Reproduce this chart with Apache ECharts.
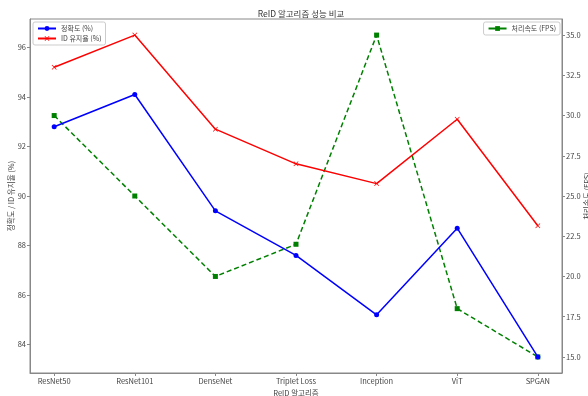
<!DOCTYPE html>
<html><head><meta charset="utf-8">
<script src="https://cdn.jsdelivr.net/npm/echarts@6/dist/echarts.min.js"></script>
<style>html,body{margin:0;padding:0;background:#fff}#c{width:588px;height:396px}</style>
</head><body><div id="c"></div>
<script>
const categories = ['ResNet50','ResNet101','DenseNet','Triplet Loss','Inception','ViT','SPGAN'];
const accuracy = [92.8, 94.1, 89.4, 87.6, 85.2, 88.7, 83.5];
const idRetention = [95.2, 96.5, 92.7, 91.3, 90.5, 93.1, 88.8];
const fps = [30, 25, 20, 22, 35, 18, 15];
const leftTicks = [84, 86, 88, 90, 92, 94, 96];
const rightTicks = [15, 17.5, 20, 22.5, 25, 27.5, 30, 32.5, 35];

const FONT = '"Noto Sans CJK KR", "DejaVu Sans", sans-serif';
const TXT = '#444';
const AX = '#888';
const xIdx = categories.map((_, i) => i);
const pts = arr => arr.map((v, i) => [i, v]);
const X_SYMBOL = 'path://M0,1L1,0L5,4L9,0L10,1L6,5L10,9L9,10L5,6L1,10L0,9L4,5Z';

const chart = echarts.init(document.getElementById('c'), null, {renderer: 'canvas'});
chart.setOption({
  animation: false,
  backgroundColor: '#fff',
  textStyle: {fontFamily: FONT},
  title: {
    text: 'ReID 알고리즘 성능 비교',
    left: 296, top: 5, textAlign: 'center',
    textStyle: {fontSize: 8.5, fontWeight: 'normal', color: '#333', fontFamily: FONT}
  },
  grid: {left: 30, right: 26, top: 19, bottom: 23, show: true, borderColor: AX, borderWidth: 1,
    backgroundColor: 'transparent', outerBoundsMode: 'none', containLabel: false},
  legend: [
    {
      data: ['정확도 (%)', 'ID 유지율 (%)'],
      orient: 'vertical', left: 33, top: 22,
      itemWidth: 18, itemHeight: 6, itemGap: 3,
      padding: [3, 4, 3, 4],
      borderColor: '#ccc', borderWidth: 1, borderRadius: 2,
      textStyle: {fontSize: 7, color: TXT, fontFamily: FONT}
    },
    {
      data: ['처리속도 (FPS)'],
      orient: 'vertical', right: 28, top: 22,
      itemWidth: 18, itemHeight: 6,
      padding: [3, 4, 3, 4],
      borderColor: '#ccc', borderWidth: 1, borderRadius: 2,
      lineStyle: {type: 'solid'},
      textStyle: {fontSize: 7, color: TXT, fontFamily: FONT}
    }
  ],
  xAxis: {
    type: 'value', min: -0.3, max: 6.3,
    name: 'ReID 알고리즘', nameLocation: 'middle', nameGap: 16,
    nameTextStyle: {fontSize: 7.5, color: TXT, fontFamily: FONT},
    axisLine: {show: true, onZero: false, lineStyle: {color: AX}},
    axisTick: {show: true, length: 3, lineStyle: {color: AX}, customValues: xIdx},
    axisLabel: {fontSize: 7.5, color: TXT, margin: 4, customValues: xIdx,
      formatter: v => categories[Math.round(v)] || ''},
    splitLine: {show: false}
  },
  yAxis: [
    {
      type: 'value', min: 82.85, max: 97.15, position: 'left',
      name: '정확도 / ID 유지율 (%)', nameLocation: 'middle', nameGap: 15, nameRotate: 90,
      nameMoveOverlap: false,
      nameTextStyle: {fontSize: 7.5, color: TXT, fontFamily: FONT},
      axisLine: {show: true, onZero: false, lineStyle: {color: AX}},
      axisTick: {show: true, length: 3, lineStyle: {color: AX}, customValues: leftTicks},
      axisLabel: {fontSize: 7.5, color: TXT, margin: 4, customValues: leftTicks},
      splitLine: {show: false}
    },
    {
      type: 'value', min: 14, max: 36, position: 'right',
      name: '처리속도 (FPS)', nameLocation: 'middle', nameGap: 21, nameRotate: 90,
      nameMoveOverlap: false,
      nameTextStyle: {fontSize: 7.5, color: TXT, fontFamily: FONT},
      axisLine: {show: true, onZero: false, lineStyle: {color: AX}},
      axisTick: {show: true, length: 3, lineStyle: {color: AX}, customValues: rightTicks},
      axisLabel: {fontSize: 7.5, color: TXT, margin: 4, customValues: rightTicks,
        formatter: v => Number(v).toFixed(1)},
      splitLine: {show: false}
    }
  ],
  series: [
    {
      name: '정확도 (%)', type: 'line', yAxisIndex: 0, data: pts(accuracy),
      symbol: 'circle', symbolSize: 5,
      lineStyle: {color: '#0000ff', width: 1.5},
      itemStyle: {color: '#0000ff'}, z: 3
    },
    {
      name: 'ID 유지율 (%)', type: 'line', yAxisIndex: 0, data: pts(idRetention),
      symbol: X_SYMBOL, symbolSize: 5,
      lineStyle: {color: '#ff0000', width: 1.5},
      itemStyle: {color: '#ff0000'}, z: 3
    },
    {
      name: '처리속도 (FPS)', type: 'line', yAxisIndex: 1, data: pts(fps),
      symbol: 'rect', symbolSize: 5,
      lineStyle: {color: '#008000', width: 1.5, type: [5, 3]},
      itemStyle: {color: '#008000'}, z: 2
    }
  ]
});
</script></body></html>
